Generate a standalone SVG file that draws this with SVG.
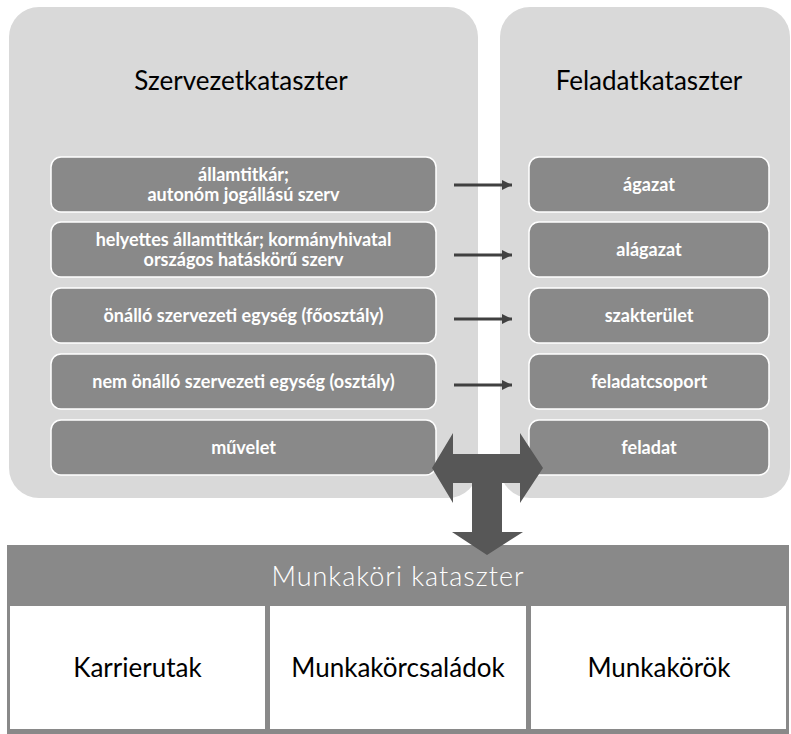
<svg xmlns="http://www.w3.org/2000/svg" width="791" height="734" viewBox="0 0 791 734">
<style>
.panel{fill:#d9d9d9}
.node{fill:#898989;stroke:#ffffff;stroke-width:1.5}
.nt{font-family:Lato,"Open Sans",sans-serif;font-weight:bold;font-size:18px;fill:#ffffff;text-anchor:middle}
.title{font-family:Lato,"Open Sans",sans-serif;font-size:26px;fill:#000000;text-anchor:middle}
.big{font-family:Lato,"Open Sans",sans-serif;font-size:26px;fill:#000000;text-anchor:middle}
.hdr{font-family:Lato,"Open Sans",sans-serif;font-weight:300;font-size:27px;letter-spacing:1px;fill:#ffffff;text-anchor:middle}
.conn{stroke:#404040;stroke-width:3;fill:none}
</style>
<defs>
<marker id="ah" viewBox="0 0 10 10" refX="10" refY="5" markerWidth="10" markerHeight="10" markerUnits="userSpaceOnUse" orient="auto">
<path d="M0,0 L10,5 L0,10 Z" fill="#404040"/>
</marker>
</defs>
<rect width="791" height="734" fill="#ffffff"/>
<g id="szervezetkataszter">
<rect class="panel" x="9" y="7" width="469" height="491" rx="30"/>
<text class="title" x="241" y="90">Szervezetkataszter</text>
</g>
<g id="feladatkataszter">
<rect class="panel" x="500" y="7" width="290" height="491" rx="30"/>
<text class="title" x="649" y="90">Feladatkataszter</text>
</g>
<g id="s1"><rect class="node" x="51" y="157" width="385" height="55" rx="10"/><text class="nt" x="243.5" y="181">államtitkár;</text><text class="nt" x="243.5" y="201">autonóm jogállású szerv</text></g>
<g id="s2"><rect class="node" x="51" y="222" width="385" height="55" rx="10"/><text class="nt" x="243.5" y="246">helyettes államtitkár; kormányhivatal</text><text class="nt" x="243.5" y="266">országos hatáskörű szerv</text></g>
<g id="s3"><rect class="node" x="51" y="288" width="385" height="55" rx="10"/><text class="nt" x="243.5" y="322">önálló szervezeti egység (főosztály)</text></g>
<g id="s4"><rect class="node" x="51" y="354" width="385" height="55" rx="10"/><text class="nt" x="243.5" y="388">nem önálló szervezeti egység (osztály)</text></g>
<g id="s5"><rect class="node" x="51" y="420" width="385" height="55" rx="10"/><text class="nt" x="243.5" y="454">művelet</text></g>
<g id="f1"><rect class="node" x="529" y="157" width="240" height="55" rx="10"/><text class="nt" x="649" y="191">ágazat</text></g>
<g id="f2"><rect class="node" x="529" y="222" width="240" height="55" rx="10"/><text class="nt" x="649" y="256">alágazat</text></g>
<g id="f3"><rect class="node" x="529" y="288" width="240" height="55" rx="10"/><text class="nt" x="649" y="322">szakterület</text></g>
<g id="f4"><rect class="node" x="529" y="354" width="240" height="55" rx="10"/><text class="nt" x="649" y="388">feladatcsoport</text></g>
<g id="f5"><rect class="node" x="529" y="420" width="240" height="55" rx="10"/><text class="nt" x="649" y="454">feladat</text></g>
<g id="munkakori">
<rect x="7" y="545" width="782" height="189" fill="#898989"/>
<text class="hdr" x="398" y="586">Munkaköri kataszter</text>
<rect x="10" y="606" width="255" height="123" fill="#ffffff"/>
<rect x="270" y="606" width="256" height="123" fill="#ffffff"/>
<rect x="531" y="606" width="255" height="123" fill="#ffffff"/>
<text class="big" x="137.5" y="677">Karrierutak</text>
<text class="big" x="398" y="677">Munkakörcsaládok</text>
<text class="big" x="659" y="677">Munkakörök</text>
</g>
<g id="connectors">
<line class="conn" x1="454" y1="185" x2="512" y2="185" marker-end="url(#ah)"/>
<line class="conn" x1="454" y1="255" x2="512" y2="255" marker-end="url(#ah)"/>
<line class="conn" x1="454" y1="319" x2="512" y2="319" marker-end="url(#ah)"/>
<line class="conn" x1="454" y1="385" x2="512" y2="385" marker-end="url(#ah)"/>
<path d="M432,468 L453,433 L453,454 L520,454 L520,433 L543,468 L520,503 L520,483 L502,483 L502,532 L523,532 L487,555 L452,532 L472,532 L472,483 L453,483 L453,503 Z" fill="#575757"/>
</g>
</svg>
